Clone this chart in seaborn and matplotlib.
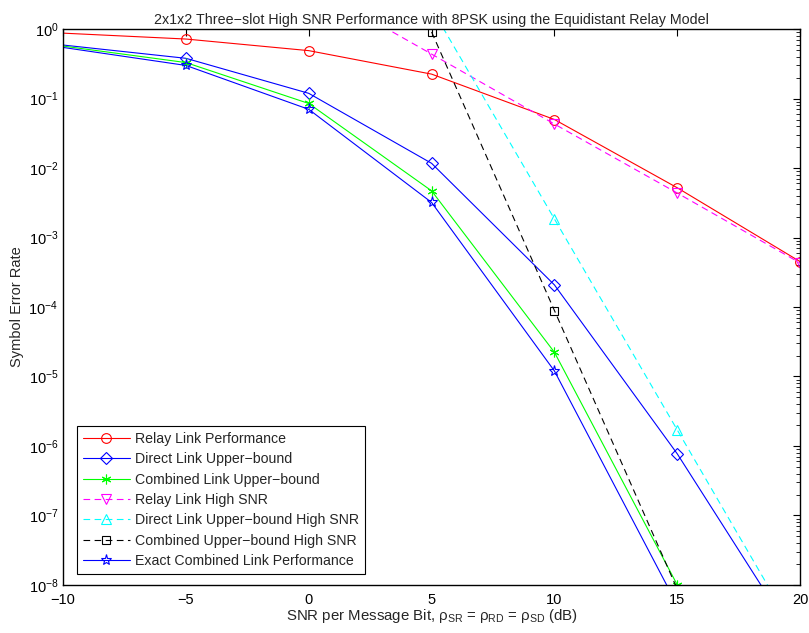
import numpy as np
import pandas as pd
import matplotlib
matplotlib.use("Agg")
import matplotlib.pyplot as plt
import matplotlib.ticker as mticker
import seaborn as sns

# ---- data ----
snr = [-10, -5, 0, 5, 10, 15, 20]
relay_perf = [0.875, 0.72, 0.49, 0.225, 0.050, 5.2e-3, 4.5e-4]
direct_ub = [0.59, 0.38, 0.119, 0.0117, 2.08e-4, 7.7e-7, 1.3e-9]
combined_ub = [0.57, 0.33, 0.085, 4.7e-3, 2.23e-5, 1.0e-8, 4.0e-12]
snr_hi_relay = [0, 5, 10, 15, 20]
relay_hi = [4.4, 0.437, 0.043, 4.37e-3, 4.3e-4]
snr_hi_direct = [5, 10, 15, 20]
direct_hi = [2.0, 1.85e-3, 1.7e-6, 1.55e-9]
snr_hi_comb = [5, 10, 15, 20]
combined_hi = [0.91, 8.9e-5, 8.7e-9, 8.9e-13]
exact_comb = [0.545, 0.30, 0.070, 3.2e-3, 1.2e-5, 5.1e-9, 1.0e-12]

labels = ["Relay Link Performance",
          "Direct Link Upper\u2212bound",
          "Combined Link Upper\u2212bound",
          "Relay Link High SNR",
          "Direct Link Upper\u2212bound High SNR",
          "Combined Upper\u2212bound High SNR",
          "Exact Combined Link Performance"]
title = "2x1x2 Three\u2212slot High SNR Performance with 8PSK using the Equidistant Relay Model"
xticks = [-10, -5, 0, 5, 10, 15, 20]

sns.set_style("white")
plt.rcParams["font.family"] = ["Liberation Sans", "DejaVu Sans"]
plt.rcParams["mathtext.fontset"] = "custom"
plt.rcParams["mathtext.rm"] = "Liberation Sans"
plt.rcParams["mathtext.it"] = "Liberation Sans:italic"
plt.rcParams["mathtext.bf"] = "Liberation Sans:bold"
plt.rcParams["axes.unicode_minus"] = True

fig = plt.figure(figsize=(8.09, 6.33), dpi=100)
ax = fig.add_axes([0.078, 0.076, 0.911, 0.878])

dash = (0, (6, 4))
series = [
    (snr, relay_perf, "red", "o", "-"),
    (snr, direct_ub, "blue", "D", "-"),
    (snr, combined_ub, "#00ff00", (6, 2, 0), "-"),
    (snr_hi_relay, relay_hi, "magenta", "v", dash),
    (snr_hi_direct, direct_hi, "cyan", "^", dash),
    (snr_hi_comb, combined_hi, "black", "s", dash),
    (snr, exact_comb, "blue", "*", "-"),
]
sizes = [7, 6, 7, 7, 7, 5.5, 8]
for (xs, ys, c, m, ls), lab, ms in zip(series, labels, sizes):
    df = pd.DataFrame({"snr": xs, "ser": ys})
    mev = slice(1, None) if xs[0] == -10 else None
    sns.lineplot(data=df, x="snr", y="ser", ax=ax, color=c, marker=m,
                 linestyle=ls, linewidth=0.8, markersize=ms,
                 markerfacecolor="none", markeredgecolor=c,
                 markeredgewidth=0.8, label=lab, errorbar=None,
                 legend=False, markevery=mev)

ax.set_yscale("log")
ax.set_xlim(-10, 20)
ax.set_ylim(1e-8, 1)
ax.set_xticks(xticks)
ax.yaxis.set_major_locator(mticker.LogLocator(base=10, numticks=20))
ax.yaxis.set_minor_locator(mticker.LogLocator(base=10, subs=np.arange(2, 10), numticks=20))
ax.yaxis.set_minor_formatter(mticker.NullFormatter())
ax.tick_params(which="both", direction="in", top=True, right=True,
               labelsize=10.5, colors="black")
ax.tick_params(which="major", length=5, width=0.8)
ax.tick_params(which="minor", length=3, width=0.6)
ax.tick_params(axis="x", which="major", pad=6)
for s in ax.spines.values():
    s.set_visible(True)
    s.set_color("black")
    s.set_linewidth(1.0)

ax.set_title(title, fontsize=10.3, pad=4)
ax.set_xlabel("SNR per Message Bit, \u03c1$_{\\mathrm{SR}}$ = \u03c1$_{\\mathrm{RD}}$ = \u03c1$_{\\mathrm{SD}}$ (dB)",
              fontsize=10.8, labelpad=0)
ax.set_ylabel("Symbol Error Rate", fontsize=10.5, labelpad=3)

handles, labs = ax.get_legend_handles_labels()
leg = ax.legend(handles, labs, loc="lower left", bbox_to_anchor=(0.019, 0.02),
                borderaxespad=0, fontsize=10.2, handlelength=3.3,
                handletextpad=0.4, labelspacing=0.45, frameon=True,
                fancybox=False, framealpha=1, edgecolor="black",
                borderpad=0.4)
leg.get_frame().set_linewidth(0.8)

fig.savefig("out.png", dpi=100)
